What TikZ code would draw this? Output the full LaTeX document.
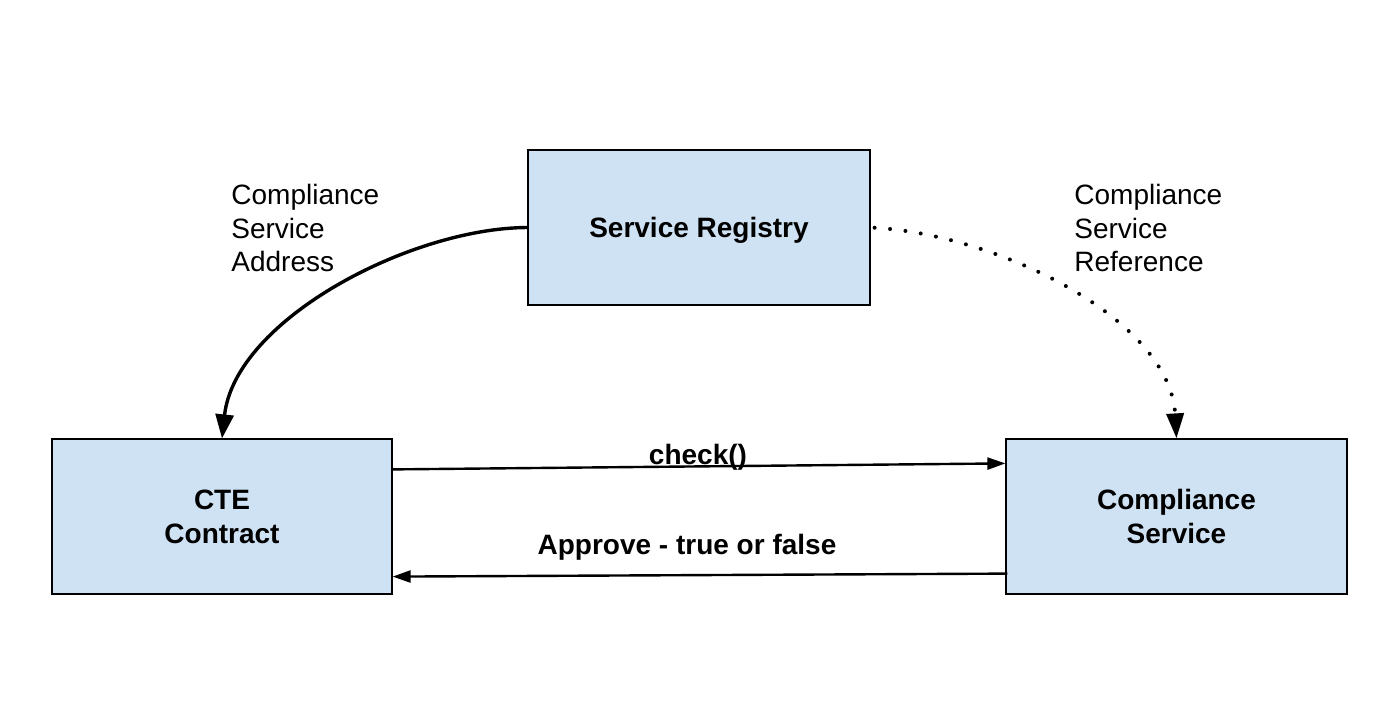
\documentclass[tikz,border=0pt]{standalone}
\usepackage{fontspec}
\setmainfont{Liberation Sans}
\usetikzlibrary{arrows.meta,calc}
\definecolor{boxfill}{HTML}{CFE2F3}
\tikzset{
  box/.style={draw=black, line width=0.6pt, fill=boxfill, minimum width=171pt, minimum height=77.5pt,
    inner sep=0pt, align=center, text depth=0pt, font=\fontsize{14}{17}\selectfont\bfseries},
  lbl/.style={inner sep=0pt, align=left, font=\fontsize{14}{16.75}\selectfont},
  blbl/.style={inner sep=0pt, font=\fontsize{14}{16.75}\selectfont\bfseries},
  curvearrow/.style={line width=1.7pt, -{Triangle[length=12pt,width=9pt]}},
  dotarrow/.style={line width=2pt, line cap=round, dash pattern=on 0pt off 7.75pt, -{Triangle[length=12.5pt,width=8.5pt]}},
  flatarrow/.style={line width=1.2pt, -{Triangle[length=9pt,width=6pt]}}
}
\begin{document}
\begin{tikzpicture}[x=0.5pt,y=-0.5pt]
\useasboundingbox[fill=white] (0,0) rectangle (1399,718);
\node[box] (reg) at (699,227.5) {Service Registry};
\node[box, minimum width=170pt] (cte) at (222,516.5) {CTE\\Contract};
\node[box, minimum width=170.5pt] (comp) at (1176.5,516.5) {Compliance\\Service};
\node[lbl, anchor=north west] (laddr) at (231,184) {Compliance\\Service\\Address};
\node[lbl, anchor=north west] (lref) at (1074,184) {Compliance\\Service\\Reference};
\draw[curvearrow] (reg.west) .. controls (410,228) and (235,320) .. (cte.north);
\draw[dotarrow, shorten <=2pt] (reg.east) .. controls (1000,235) and (1170,320) .. (comp.north);
\draw[flatarrow] ([yshift=-15.5pt]cte.north east) -- ([yshift=-12.5pt]comp.north west);
\node[blbl] (lcheck) at (698,457) {check()};
\draw[flatarrow] ([yshift=10.5pt,xshift=1pt]comp.south west) -- ([yshift=9pt]cte.south east);
\node[blbl] (lappr) at (687,547) {Approve - true or false};
\end{tikzpicture}
\end{document}
